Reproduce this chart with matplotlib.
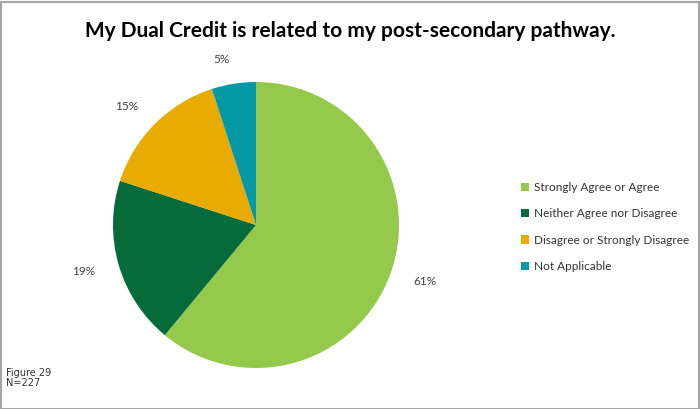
import matplotlib.pyplot as plt
from matplotlib.patches import Patch, Rectangle

categories = ["Strongly Agree or Agree", "Neither Agree nor Disagree",
              "Disagree or Strongly Disagree", "Not Applicable"]
values = [61, 19, 15, 5]
colors = ["#94C94B", "#056B3B", "#E9AB00", "#0599A6"]

plt.rcParams['font.family'] = ['Lato', 'DejaVu Sans']

fig = plt.figure(figsize=(7, 4.09), dpi=100)
W, H = 700, 409

# pie axes: centre (256, 225) px, radius 143 px
cx, cy, r = 256, 225, 143
ax = fig.add_axes([(cx - r) / W, (H - cy - r) / H, 2 * r / W, 2 * r / H])
wedges, texts = ax.pie(values, colors=colors, startangle=90, counterclock=False,
                       labels=[f"{v}%" for v in values], labeldistance=1.17,
                       wedgeprops=dict(linewidth=0),
                       textprops=dict(fontsize=8.5, color="#404040"))
ax.set_xlim(-1, 1)
ax.set_ylim(-1, 1)
ax.set_aspect("equal")
ax.axis("off")

fig.text(0.5, 1 - 31 / H, "My Dual Credit is related to my post-secondary pathway.",
         ha="center", va="center", fontsize=15, fontweight="bold", color="black")

handles = [Patch(facecolor=c, edgecolor="none") for c in colors]
fig.legend(handles, categories, loc="center left",
           bbox_to_anchor=(510 / W, 1 - 227 / H), frameon=False, fontsize=8.5,
           handlelength=0.7, handleheight=0.7, handletextpad=0.4,
           labelspacing=1.3, labelcolor="#333333")

fig.text(6 / W, 1 - 378 / H, "Figure 29\nN=227", ha="left", va="center",
         fontsize=7, color="#333333", linespacing=0.95, family=['DejaVu Sans'])

# grey border round the figure
fig.add_artist(Rectangle((0.5 / W, 0.5 / H), 1 - 2 / W, 1 - 2 / H,
                         transform=fig.transFigure, fill=False,
                         edgecolor="#A6A6A6", linewidth=1.5))

fig.savefig("out.png", dpi=100)
